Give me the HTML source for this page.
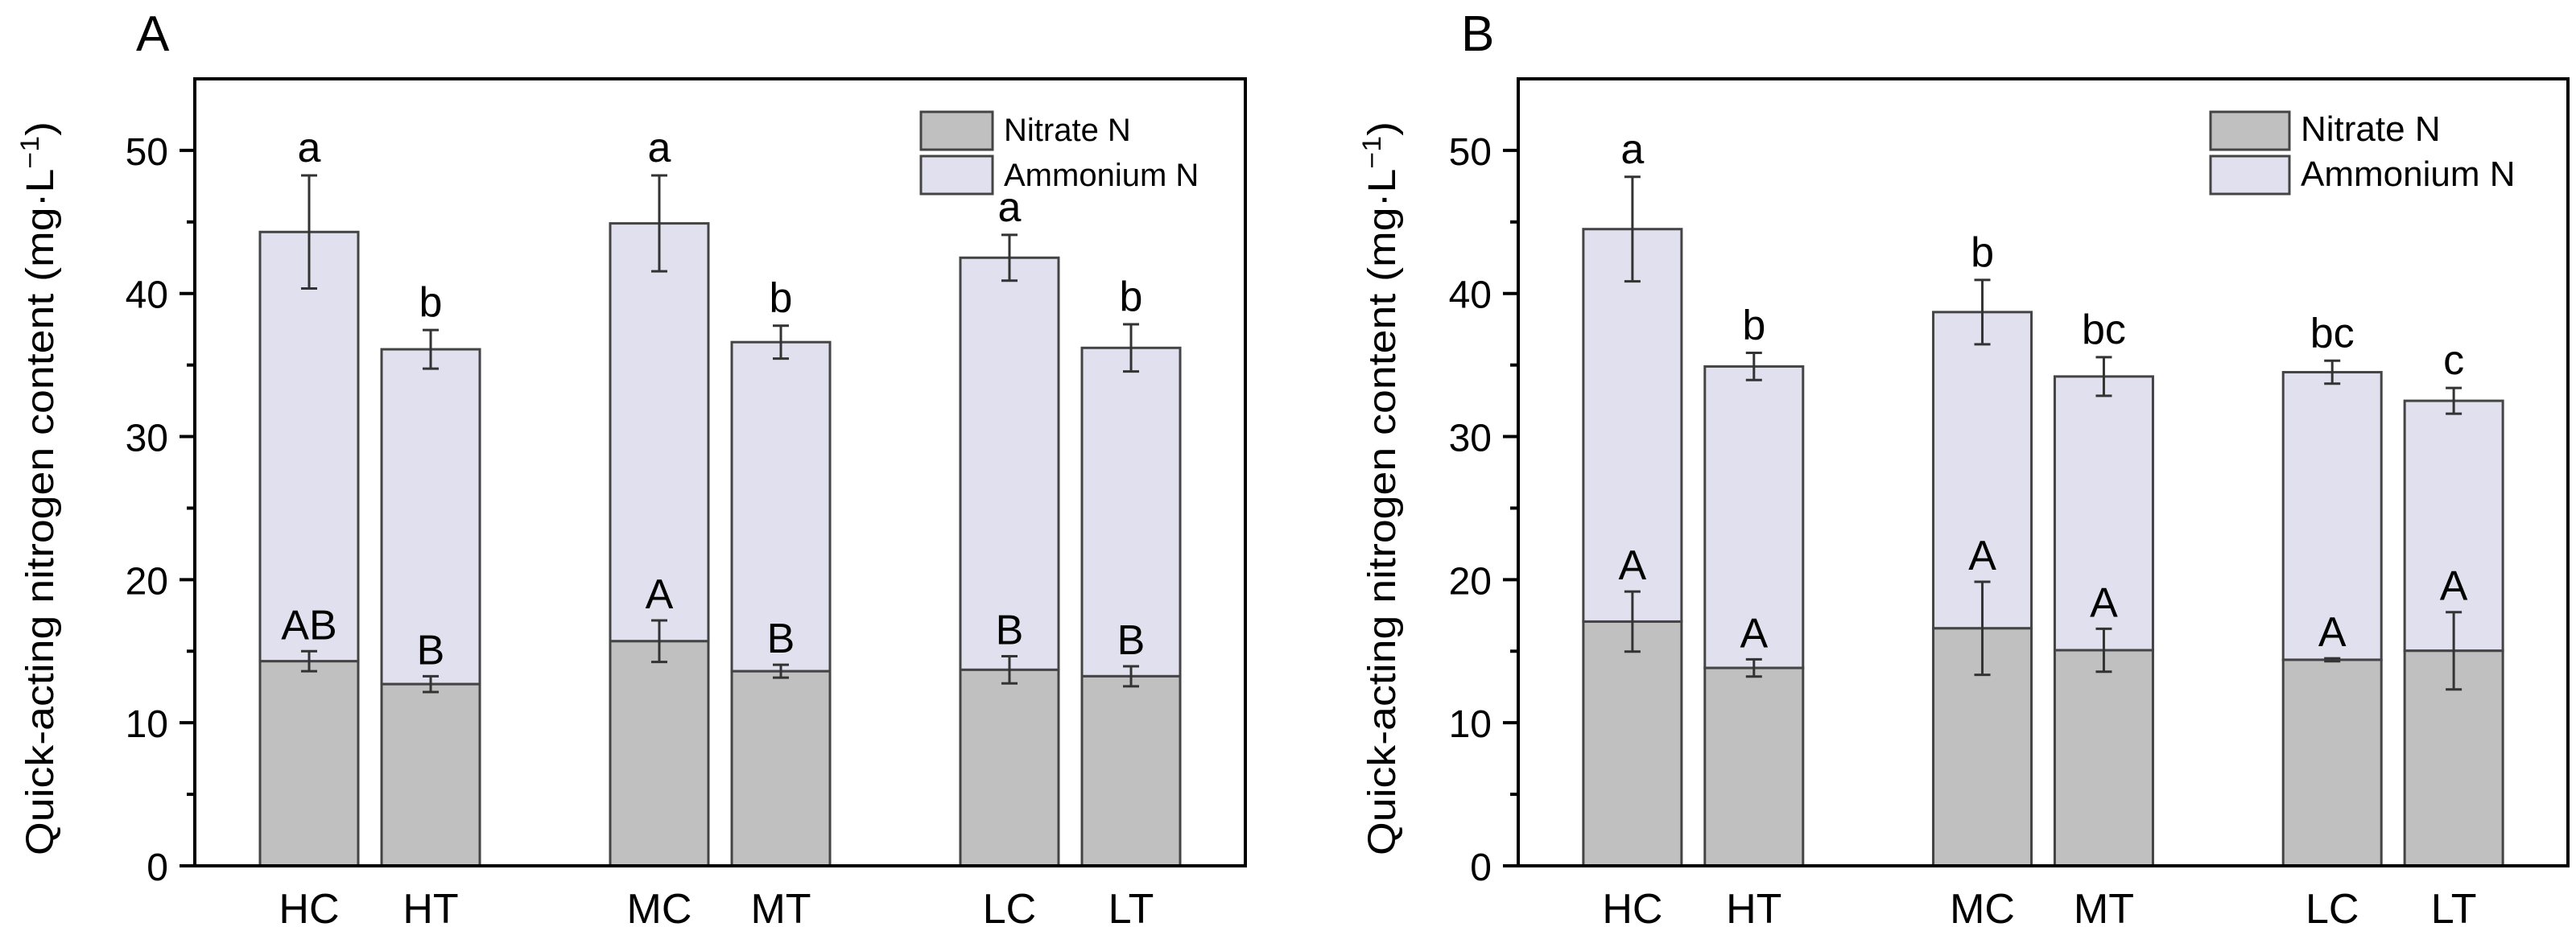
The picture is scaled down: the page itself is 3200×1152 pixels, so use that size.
<!DOCTYPE html>
<html><head><meta charset="utf-8"><style>
html,body{margin:0;padding:0;background:#fff;}
svg{display:block;font-family:"Liberation Sans",Arial,sans-serif;}
</style></head><body>
<svg id="chart" width="3200" height="1152" viewBox="0 0 3200 1152" xmlns="http://www.w3.org/2000/svg"></svg>
<script>
const categories = ["HC","HT","MC","MT","LC","LT"];
const yTicks = [0,10,20,30,40,50];
const nitrateA = [14.3,12.7,15.7,13.6,13.7,13.25];
const nitrateErrA = [0.7,0.55,1.45,0.45,0.95,0.7];
const totalA = [44.3,36.1,44.9,36.6,42.5,36.2];
const totalErrA = [3.95,1.35,3.35,1.15,1.6,1.65];
const lowerLettersA = ["AB","B","A","B","B","B"];
const upperLettersA = ["a","b","a","b","a","b"];
const nitrateB = [17.07,13.83,16.6,15.07,14.4,15.03];
const nitrateErrB = [2.1,0.6,3.25,1.5,0.1,2.7];
const totalB = [44.5,34.9,38.7,34.2,34.5,32.5];
const totalErrB = [3.65,0.95,2.25,1.35,0.8,0.9];
const lowerLettersB = ["A","A","A","A","A","A"];
const upperLettersB = ["a","b","b","bc","bc","c"];

const NS="http://www.w3.org/2000/svg";
const svg=document.getElementById('chart');
function mk(tag,attrs,parent){const e=document.createElementNS(NS,tag);for(const k in attrs)e.setAttribute(k,attrs[k]);(parent||svg).appendChild(e);return e;}

function panel(cfg){
  const g=mk('g',{});
  
  
  const L=cfg.left,R=cfg.right,T=98,B=1076,ymax=55;
  const y=v=>B-(v/ymax)*(B-T);
  const gw=(R-L)/3;
  const xc=i=>L+gw*(Math.floor(i/2)+0.5)+(i%2===0?-1:1)*gw*0.1736;
  const bw=122;
  categories.forEach((c,i)=>{
    const x0=xc(i)-bw/2;
    const am=mk('rect',{x:x0,y:y(cfg.total[i]),width:bw,height:y(cfg.nitrate[i])-y(cfg.total[i]),fill:'#e0e0ee',stroke:'#444',"stroke-width":3},g);
    
    
    const ni=mk('rect',{x:x0,y:y(cfg.nitrate[i]),width:bw,height:B-y(cfg.nitrate[i]),fill:'#c0c0c0',stroke:'#444',"stroke-width":3},g);
    
    
    [[cfg.nitrate[i],cfg.nErr[i],'nitrate'],[cfg.total[i],cfg.tErr[i],'ammonium']].forEach(([v,e,n])=>{
      const eb=mk('path',{d:`M${xc(i)} ${y(v+e)}V${y(v-e)}M${xc(i)-10} ${y(v+e)}h20M${xc(i)-10} ${y(v-e)}h20`,stroke:'#333',"stroke-width":3,fill:'none'},g);
      
      
    });
    const t1=mk('text',{x:xc(i),y:y(cfg.nitrate[i]+cfg.nErr[i])-15,"font-size":52,"text-anchor":"middle",fill:'#000'},g);
    t1.textContent=cfg.lowL[i];
    
    
    const t2=mk('text',{x:xc(i),y:y(cfg.total[i]+cfg.tErr[i])-17,"font-size":52,"text-anchor":"middle",fill:'#000'},g);
    t2.textContent=cfg.upL[i];
    
    
    const xl=mk('text',{x:xc(i),y:1147,"font-size":52,"text-anchor":"middle",fill:'#000'},g);
    xl.textContent=c;
    
    
  });
  const fr=mk('rect',{x:L,y:T,width:R-L,height:B-T,fill:'none',stroke:'#000',"stroke-width":4},g);
  
  
  yTicks.forEach(v=>{
    const tk=mk('line',{x1:L-19,x2:L,y1:y(v),y2:y(v),stroke:'#000',"stroke-width":4},g);
    
    
    const tl=mk('text',{x:L-33,y:y(v)+18,"font-size":48,"text-anchor":"end",fill:'#000'},g);
    tl.textContent=v;
    
    
    if(v+5<ymax){
      const mt=mk('line',{x1:L-10,x2:L,y1:y(v+5),y2:y(v+5),stroke:'#000',"stroke-width":4},g);
      
      
    }
  });
  const yt=mk('text',{x:0,y:0,"font-size":48,"text-anchor":"middle",transform:`translate(${cfg.titleX},607) rotate(-90)`,fill:'#000',textLength:912,lengthAdjust:'spacingAndGlyphs'},g);
  
  
  yt.innerHTML='Quick-acting nitrogen content (mg·L<tspan dy="-18" font-size="32">−1</tspan><tspan dy="18">)</tspan>';
  const pl=mk('text',{x:cfg.letterX,y:63,"font-size":62,fill:'#000'},g);
  pl.textContent=cfg.letter;
  
  
  const lg=mk('g',{},g);
  
  
  [['#c0c0c0','Nitrate N',139,175],['#e0e0ee','Ammonium N',194,231]].forEach(([f,t,yy,bl])=>{
    const r=mk('rect',{x:cfg.legX,y:yy,width:cfg.legW,height:47,fill:f,stroke:'#444',"stroke-width":3},lg);
    
    
    const tx=mk('text',{x:cfg.legX+cfg.legW+14,y:bl,"font-size":cfg.legF,fill:'#000'},lg);
    tx.textContent=t;
    
    
  });
}
panel({id:'panel-a',left:242,right:1547,titleX:66,letterX:169,letter:'A',nitrate:nitrateA,nErr:nitrateErrA,total:totalA,tErr:totalErrA,lowL:lowerLettersA,upL:upperLettersA,legX:1144,legW:89,legF:40});
panel({id:'panel-b',left:1886,right:3190,titleX:1733,letterX:1815,letter:'B',nitrate:nitrateB,nErr:nitrateErrB,total:totalB,tErr:totalErrB,lowL:lowerLettersB,upL:upperLettersB,legX:2746,legW:98,legF:44});
</script>
</body></html>
